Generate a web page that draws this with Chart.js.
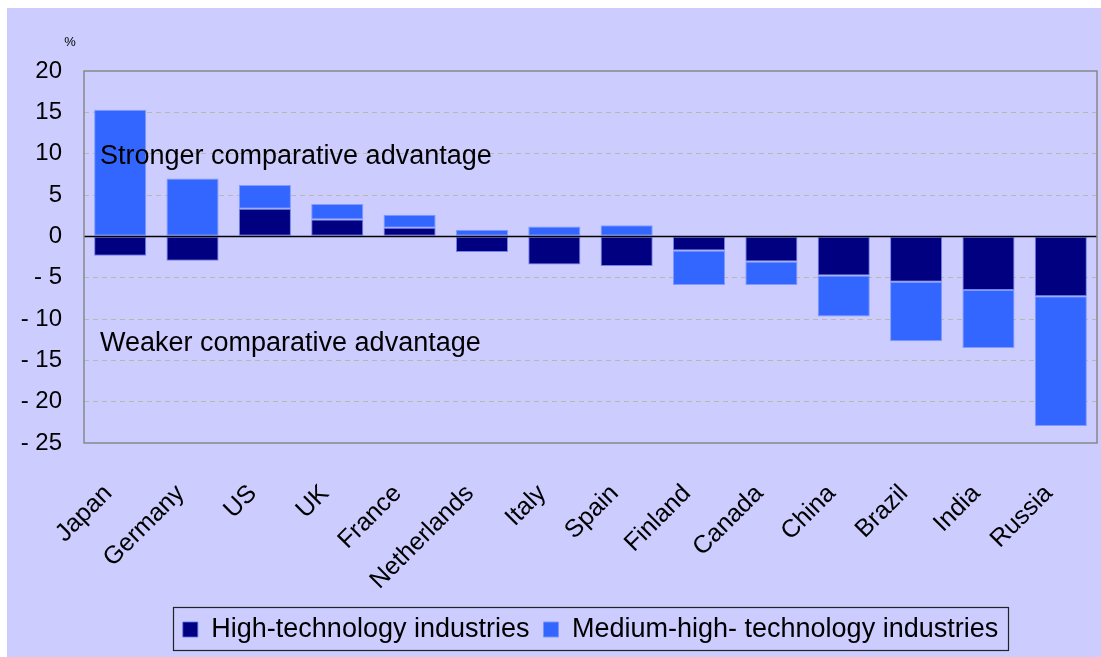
<!DOCTYPE html>
<html><head><meta charset="utf-8">
<script src="https://cdn.jsdelivr.net/npm/chart.js@4.4.0/dist/chart.umd.min.js"></script>
<style>
html,body{margin:0;padding:0;background:#fff;}
#wrap{position:absolute;left:7px;top:8px;width:1094px;height:649px;background:#CCCCFF;}
canvas{display:block;}
</style></head><body>
<div id="wrap"><canvas id="c" width="1094" height="649"></canvas></div>
<script>
// ---- data ----
const categories = ['Japan','Germany','US','UK','France','Netherlands','Italy','Spain','Finland','Canada','China','Brazil','India','Russia'];
const highTech = [-2.35, -2.95, 3.35, 2.05, 1.05, -1.9, -3.4, -3.6, -1.7, -3.05, -4.75, -5.5, -6.5, -7.25];
const mediumHighTech = [15.3, 7.0, 2.85, 1.85, 1.55, 0.8, 1.2, 1.35, -4.2, -2.85, -4.95, -7.2, -7.0, -15.7];
const seriesNames = ['High-technology industries', 'Medium-high- technology industries'];
const yMin = -25, yMax = 20, yStep = 5;
const unitLabel = '%';
const notes = [
  {text: 'Stronger comparative advantage', value: 9.6},
  {text: 'Weaker comparative advantage', value: -13}
];

const FONT = '"Liberation Sans", Arial, sans-serif';

const decor = {
  id: 'decor',
  afterDatasetsDraw(chart) {
    const {ctx, chartArea: a, scales: {y}} = chart;
    ctx.save();
    const y0 = Math.round(y.getPixelForValue(0)) + 0.5;
    ctx.strokeStyle = '#000'; ctx.lineWidth = 1.5;
    ctx.beginPath(); ctx.moveTo(a.left, y0); ctx.lineTo(a.right, y0); ctx.stroke();
    ctx.strokeStyle = '#888'; ctx.lineWidth = 1.5;
    ctx.strokeRect(a.left, a.top, a.width, a.height);
    ctx.fillStyle = '#000'; ctx.font = '27px ' + FONT; ctx.textBaseline = 'middle'; ctx.textAlign = 'left';
    notes.forEach(n => ctx.fillText(n.text, a.left + 16, y.getPixelForValue(n.value)));
    ctx.font = '13px ' + FONT; ctx.textAlign = 'center';
    ctx.fillText(unitLabel, 63, 34);
    ctx.restore();
  },
  afterDraw(chart) {
    const lg = chart.legend;
    if (!lg || !lg.legendHitBoxes || !lg.legendHitBoxes.length) return;
    const hb = lg.legendHitBoxes;
    let l = Infinity, r = -Infinity, t = Infinity, b = -Infinity;
    hb.forEach(h => { l = Math.min(l, h.left); r = Math.max(r, h.left + h.width); t = Math.min(t, h.top); b = Math.max(b, h.top + h.height); });
    const ctx = chart.ctx;
    ctx.save();
    ctx.strokeStyle = '#222'; ctx.lineWidth = 1.2;
    ctx.strokeRect(Math.round(l - 10) + 0.5, Math.round(t - 9) + 0.5, Math.round(r - l + 20), Math.round(b - t + 16));
    ctx.restore();
  }
};

new Chart(document.getElementById('c'), {
  type: 'bar',
  data: {
    labels: categories,
    datasets: [
      {label: seriesNames[0], data: highTech, backgroundColor: '#000080', borderColor: 'rgba(90,110,230,0.8)', borderWidth: 1, borderSkipped: false},
      {label: seriesNames[1], data: mediumHighTech, backgroundColor: '#3366FF', borderColor: 'rgba(120,150,255,0.9)', borderWidth: 1, borderSkipped: false}
    ]
  },
  options: {
    responsive: false,
    animation: false,
    devicePixelRatio: 1,
    layout: {padding: {left: 0, right: 4, top: 63, bottom: 4}},
    datasets: {bar: {categoryPercentage: 0.72, barPercentage: 1.0}},
    scales: {
      x: {
        stacked: true,
        grid: {display: false},
        border: {display: false},
        ticks: {autoSkip: false, minRotation: 45, maxRotation: 45, color: '#000', font: {family: FONT, size: 25}, padding: 28, labelOffset: -12},
        afterFit(s) { s.height = 159; s.paddingRight = 0; s.paddingLeft = 0; }
      },
      y: {
        stacked: true,
        min: yMin, max: yMax,
        grid: {
          color: c => (c.tick && (c.tick.value === 0 || c.tick.value === yMin || c.tick.value === yMax)) ? 'rgba(0,0,0,0)' : '#B9B9A6',
          lineWidth: 1, drawTicks: false
        },
        border: {display: false, dash: [5, 4]},
        ticks: {
          stepSize: yStep, color: '#000', padding: 22,
          font: {family: FONT, size: 24},
          callback: v => v < 0 ? '- ' + Math.abs(v) : String(v)
        },
        afterFit(s) { s.width = 77; }
      }
    },
    plugins: {
      legend: {
        position: 'bottom', fullSize: false,
        onClick: null,
        labels: {boxWidth: 15, boxHeight: 15, color: '#000', font: {family: FONT, size: 27}, padding: 14}
      },
      tooltip: {enabled: false}
    }
  },
  plugins: [decor]
});
</script>
</body></html>
